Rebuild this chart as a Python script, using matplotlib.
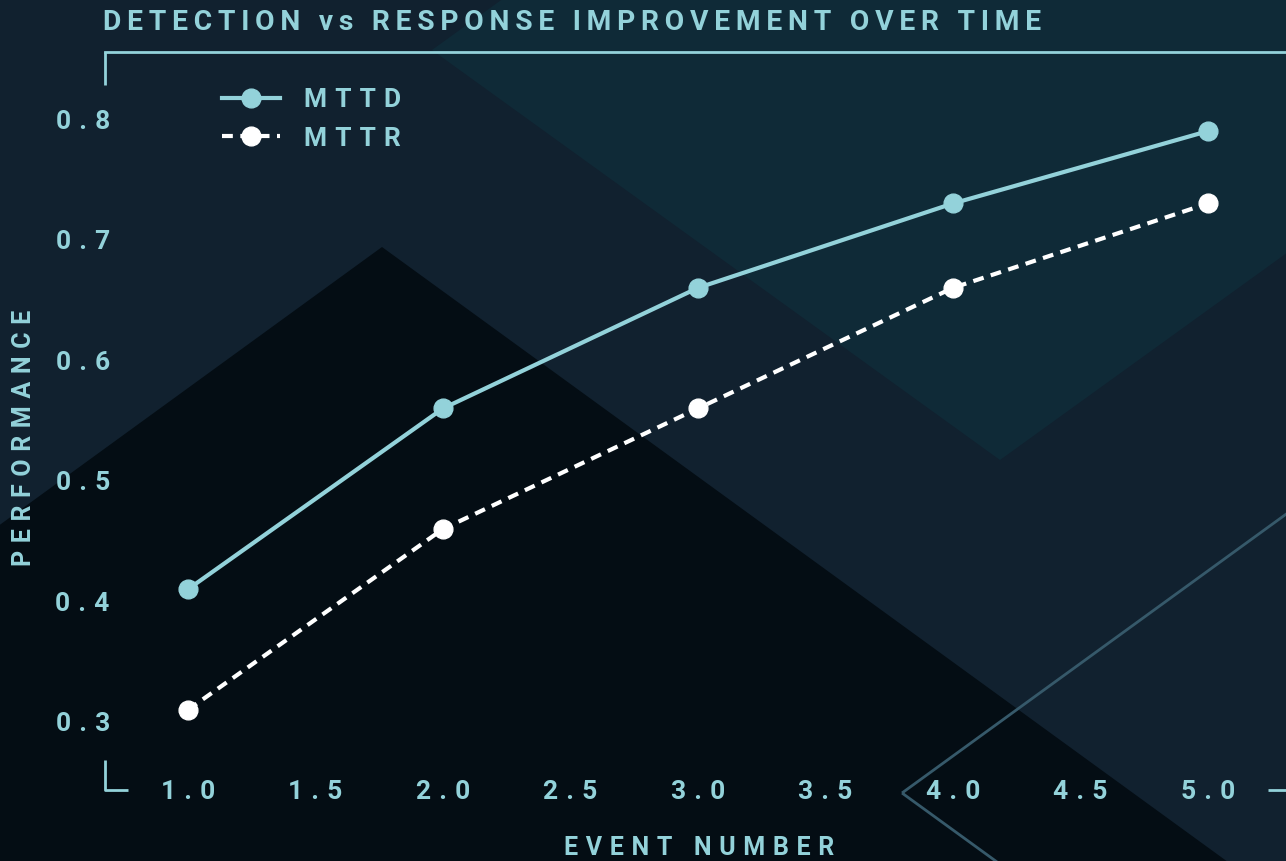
import matplotlib
matplotlib.use("Agg")
import matplotlib.pyplot as plt
from matplotlib.patches import Polygon

# data
events = [1, 2, 3, 4, 5]
mttd = [0.41, 0.56, 0.66, 0.73, 0.79]
mttr = [0.31, 0.46, 0.56, 0.66, 0.73]
xticks = [1.0, 1.5, 2.0, 2.5, 3.0, 3.5, 4.0, 4.5, 5.0]
yticks = [0.3, 0.4, 0.5, 0.6, 0.7, 0.8]

BG = '#11212f'
DARK = '#040d14'
TEAL_BG = '#0f2a37'
OUTLINE = '#36596a'
TEAL = '#93d2da'
plt.rcParams['font.family'] = ['Roboto', 'DejaVu Sans']

W, H = 1286, 861


def sp(s, gap='\u2009'):
    return gap.join(s)


fig = plt.figure(figsize=(W / 100, H / 100), dpi=100, facecolor=BG)

# background layer in pixel coordinates (origin top-left)
bg = fig.add_axes([0, 0, 1, 1], zorder=-1)
bg.set_xlim(0, W)
bg.set_ylim(H, 0)
bg.axis('off')
bg.add_patch(Polygon([(432, 50), (1000, -360), (1568, 50), (1000, 460)], fc=TEAL_BG, ec='none'))
bg.add_patch(Polygon([(382, 247), (1382, 974), (382, 1701), (-618, 974)], fc=DARK, ec='none'))
bg.add_patch(Polygon([(902, 793), (1402, 430), (1902, 793), (1402, 1156)],
                     fc='none', ec=OUTLINE, lw=2.0))
# corner brackets of the frame
bk = dict(color=TEAL, lw=2, solid_capstyle='butt')
bg.plot([105, 105], [52, 85], **bk)
bg.plot([105, 105, 128], [760, 790, 790], **bk)
bg.plot([1268, 1286], [790, 790], **bk)

ax = fig.add_axes([105 / W, 1 - 790 / H, 1 - 105 / W, (790 - 52) / H])
ax.set_facecolor('none')

tg = '\u2009\u200a'
ax.plot(events, mttd, color=TEAL, lw=3.0, marker='o', ms=13.5, label=sp('MTTD', tg), zorder=3)
ax.plot(events, mttr, color='white', lw=3.0, marker='o', ms=13.5, dashes=(2.6, 1.8),
        label=sp('MTTR', tg), zorder=3)

ax.set_xlim(0.675, 5.306)
ax.set_ylim(0.2436, 0.8556)

ax.set_xticks(xticks, labels=[sp(f'{v:.1f}', tg) for v in xticks])
ax.set_yticks(yticks, labels=[sp(f'{v:.1f}', tg) for v in yticks])
ax.tick_params(axis='both', length=0, colors=TEAL, labelsize=19)
ax.tick_params(axis='x', pad=-7.5)
ax.tick_params(axis='y', pad=-3.5)
for lab in ax.get_xticklabels() + ax.get_yticklabels():
    lab.set_fontweight('bold')

for s in ('left', 'bottom', 'right'):
    ax.spines[s].set_visible(False)
ax.spines['top'].set_color(TEAL)
ax.spines['top'].set_linewidth(2)

leg = ax.legend(loc='upper left', bbox_to_anchor=(222 / W, 1 - 88 / H), bbox_transform=fig.transFigure,
                frameon=False, fontsize=19, handlelength=2.2, handletextpad=0.9,
                labelspacing=0.55, borderpad=0, borderaxespad=0)
for t in leg.get_texts():
    t.set_color(TEAL)
    t.set_fontweight('bold')

fig.text(103 / W, 1 - 22 / H, sp('DETECTION vs RESPONSE IMPROVEMENT OVER TIME'), color=TEAL,
         fontsize=20.3, fontweight='bold', ha='left', va='center')
fig.text(24 / W, 1 - 438 / H, sp('PERFORMANCE', tg), color=TEAL, fontsize=18, fontweight='bold',
         rotation=90, ha='center', va='center')
fig.text(699 / W, 1 - 848 / H, sp('EVENT NUMBER', tg), color=TEAL, fontsize=18, fontweight='bold',
         ha='center', va='center')

fig.savefig('out.png', dpi=100, facecolor=BG)
